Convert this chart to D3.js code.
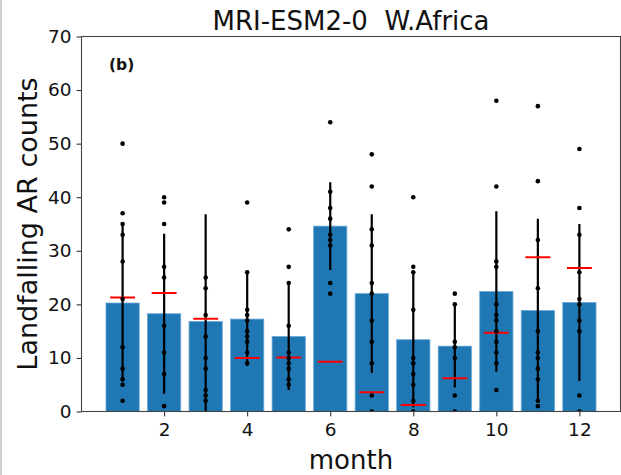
<!DOCTYPE html>
<html>
<head>
<meta charset="utf-8">
<script src="https://cdn.jsdelivr.net/npm/d3@7"></script>
<style>
  body { margin: 0; background: #fff; }
  text { font-family: "DejaVu Sans", sans-serif; fill: #111; }
</style>
</head>
<body>
<div id="chart"></div>
<script>
// data
var months = [1, 2, 3, 4, 5, 6, 7, 8, 9, 10, 11, 12];
var barValues = [20.25, 18.25, 16.8, 17.25, 14.0, 34.6, 22.0, 13.4, 12.2, 22.4, 18.85, 20.35];
var barStd = [14.65, 14.95, 20.0, 8.75, 10.0, 8.2, 14.8, 12.6, 7.7, 15.0, 17.15, 14.65];
var redMeans = [21.3, 22.1, 17.3, 10.0, 10.1, 9.3, 3.6, 1.2, 6.2, 14.7, 28.8, 26.8];
var yearCounts = [
  [50, 37, 35, 33, 28, 21, 12, 8, 6, 5, 2],
  [40, 39, 35, 27, 25, 16, 11, 7, 1],
  [25, 23, 18, 14, 10, 8, 4, 3, 2],
  [39, 26, 19, 18, 17, 15, 14, 13, 11, 9],
  [34, 27, 24, 16, 11, 10, 9, 8, 6, 5],
  [54, 41, 38, 36, 33, 32, 31, 24, 22],
  [48, 42, 34, 31, 24, 22, 17, 13, 9, 3, 0],
  [40, 27, 26, 19, 10, 9, 7, 5, 2, 0],
  [22, 20, 13, 12, 10, 3, 0],
  [58, 42, 28, 27, 20, 18, 17, 15, 13, 11, 9, 4],
  [57, 43, 32, 23, 15, 11, 10, 8, 6, 2, 1],
  [49, 38, 33, 26, 21, 20, 17, 15, 3, 0]
];
var xTicks = [2, 4, 6, 8, 10, 12];
var yTicks = [0, 10, 20, 30, 40, 50, 60, 70];

var W = 621, H = 475;
var plotL = 81.5, plotR = 620.5, plotT = 36.5, plotB = 411.5;

var svg = d3.select("#chart").append("svg")
    .attr("width", W)
    .attr("height", H);

// light frame line on the left edge
svg.append("line")
    .attr("x1", 1).attr("x2", 1)
    .attr("y1", 0).attr("y2", H)
    .attr("stroke", "#d0d0d0")
    .attr("stroke-width", 2);

var x = d3.scaleLinear().domain([0.01, 12.99]).range([plotL, plotR]);
var y = d3.scaleLinear().domain([0, 70]).range([plotB, plotT]);
var step = x(2) - x(1);

svg.append("clipPath").attr("id", "plotclip")
  .append("rect")
    .attr("x", plotL).attr("y", plotT)
    .attr("width", plotR - plotL).attr("height", plotB - plotT);

var plot = svg.append("g").attr("clip-path", "url(#plotclip)");

// bars
plot.selectAll(".bar")
    .data(months)
  .enter().append("rect")
    .attr("class", "bar")
    .attr("x", function(d) { return x(d) - step * 0.4; })
    .attr("width", step * 0.8)
    .attr("y", function(d, i) { return y(barValues[i]); })
    .attr("height", function(d, i) { return plotB - y(barValues[i]); })
    .attr("fill", "#1f77b4")
    .attr("stroke", "#6aa6d6")
    .attr("stroke-width", 0.8);

// error bars
plot.selectAll(".err")
    .data(months)
  .enter().append("line")
    .attr("class", "err")
    .attr("x1", function(d) { return x(d); })
    .attr("x2", function(d) { return x(d); })
    .attr("y1", function(d, i) { return y(barValues[i] + barStd[i]); })
    .attr("y2", function(d, i) { return y(barValues[i] - barStd[i]); })
    .attr("stroke", "#000")
    .attr("stroke-width", 2.2);

// red mean markers
plot.selectAll(".mean")
    .data(months)
  .enter().append("line")
    .attr("class", "mean")
    .attr("x1", function(d) { return x(d - 0.3); })
    .attr("x2", function(d) { return x(d + 0.3); })
    .attr("y1", function(d, i) { return y(redMeans[i]); })
    .attr("y2", function(d, i) { return y(redMeans[i]); })
    .attr("stroke", "#ff0000")
    .attr("stroke-width", 2);

// single-year dots
var pts = [];
months.forEach(function(m, i) {
  yearCounts[i].forEach(function(v) { pts.push({m: m, v: v}); });
});
plot.selectAll(".dot")
    .data(pts)
  .enter().append("circle")
    .attr("class", "dot")
    .attr("cx", function(d) { return x(d.m); })
    .attr("cy", function(d) { return y(d.v); })
    .attr("r", 2.3)
    .attr("fill", "#000");

// axes
var xAxis = svg.append("g")
    .attr("transform", "translate(0," + plotB + ")")
    .call(d3.axisBottom(x).tickValues(xTicks).tickSize(4.9).tickPadding(6.5).tickSizeOuter(0));
var yAxis = svg.append("g")
    .attr("transform", "translate(" + plotL + ",0)")
    .call(d3.axisLeft(y).tickValues(yTicks).tickSize(4.9).tickPadding(5).tickSizeOuter(0));
[xAxis, yAxis].forEach(function(a) {
  a.select(".domain").remove();
  a.selectAll(".tick line").attr("stroke", "#222").attr("stroke-width", 1);
  a.selectAll(".tick text")
      .style("font-family", "DejaVu Sans")
      .style("font-size", "18.5px")
      .attr("fill", "#111");
});

// frame
svg.append("rect")
    .attr("x", plotL).attr("y", plotT)
    .attr("width", plotR - plotL).attr("height", plotB - plotT)
    .attr("fill", "none")
    .attr("stroke", "#444")
    .attr("stroke-width", 1.1);

// labels
svg.append("text")
    .attr("x", (plotL + plotR) / 2)
    .attr("y", 29.5)
    .attr("text-anchor", "middle")
    .style("font-size", "26px")
    .style("white-space", "pre")
    .text("MRI-ESM2-0  W.Africa");

svg.append("text")
    .attr("x", (plotL + plotR) / 2)
    .attr("y", 469)
    .attr("text-anchor", "middle")
    .style("font-size", "26px")
    .text("month");

svg.append("text")
    .attr("transform", "translate(37," + ((plotT + plotB) / 2) + ") rotate(-90)")
    .attr("text-anchor", "middle")
    .style("font-size", "27px")
    .text("Landfalling AR counts");

svg.append("text")
    .attr("x", 109)
    .attr("y", 69.5)
    .style("font-size", "15.5px")
    .style("font-weight", "bold")
    .text("(b)");
</script>
</body>
</html>
